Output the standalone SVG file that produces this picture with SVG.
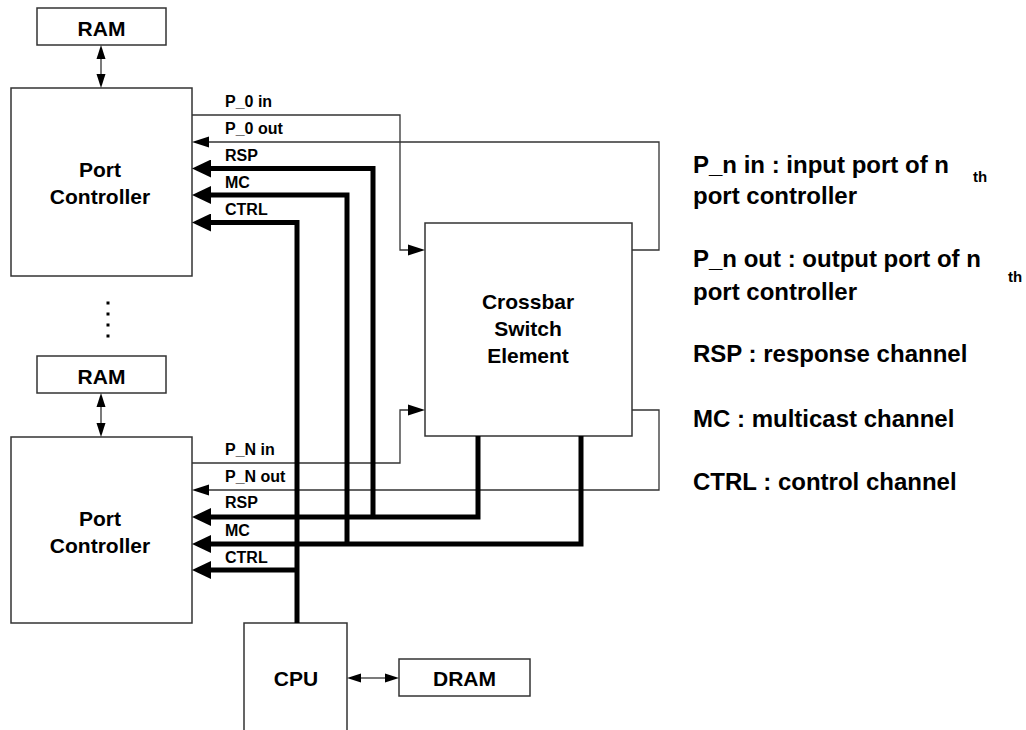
<svg xmlns="http://www.w3.org/2000/svg" width="1026" height="730" viewBox="0 0 1026 730">
<style>
.box{fill:#fff;stroke:#333;stroke-width:1.5}
.thin{fill:none;stroke:#333;stroke-width:1.3}
.thick{fill:none;stroke:#000;stroke-width:5}
text{font-family:"Liberation Sans",Arial,sans-serif;font-weight:bold;fill:#000}
.nl{font-size:21px;text-anchor:middle}
.sl{font-size:16px}
.lg{font-size:24px}
.sup{font-size:15px}
</style>
<defs>
<marker id="ah" markerUnits="userSpaceOnUse" markerWidth="17" markerHeight="12" refX="0" refY="6" orient="auto"><path d="M0,0.5 L17,6 L0,11.5 z" fill="#000"/></marker>
<marker id="as" markerUnits="userSpaceOnUse" markerWidth="14" markerHeight="10" refX="0" refY="5" orient="auto-start-reverse"><path d="M0,0.5 L14,5 L0,9.5 z" fill="#000"/></marker>
<marker id="at" markerUnits="userSpaceOnUse" markerWidth="19" markerHeight="18" refX="0" refY="9" orient="auto"><path d="M0,0 L19,9 L0,18 z" fill="#000"/></marker>
</defs>
<g id="ram0"><rect class="box" x="37" y="8" width="129" height="37"/><text class="nl" x="101.5" y="36">RAM</text></g>
<g id="pc0"><rect class="box" x="11" y="88" width="181" height="188"/><text class="nl" x="100" y="177">Port</text><text class="nl" x="100" y="204">Controller</text></g>
<g id="dots"><rect x="106.5" y="301.5" width="3" height="3" fill="#000"/><rect x="106.5" y="312.5" width="3" height="3" fill="#000"/><rect x="106.5" y="323.5" width="3" height="3" fill="#000"/><rect x="106.5" y="334.5" width="3" height="3" fill="#000"/></g>
<g id="ramN"><rect class="box" x="37" y="356" width="129" height="37"/><text class="nl" x="101.5" y="384">RAM</text></g>
<g id="pcN"><rect class="box" x="11" y="437" width="181" height="186"/><text class="nl" x="100" y="526">Port</text><text class="nl" x="100" y="553">Controller</text></g>
<g id="crossbar"><rect class="box" x="425" y="223" width="207" height="213"/><text class="nl" x="528" y="309">Crossbar</text><text class="nl" x="528" y="336">Switch</text><text class="nl" x="528" y="363">Element</text></g>
<g id="cpu"><rect class="box" x="244" y="623" width="103" height="120"/><text class="nl" x="296" y="686">CPU</text></g>
<g id="dram"><rect class="box" x="399" y="659" width="131" height="37"/><text class="nl" x="464.5" y="686">DRAM</text></g>
<g id="connectors">
<line class="thin" x1="101" y1="59" x2="101" y2="74" marker-start="url(#as)" marker-end="url(#as)"/>
<line class="thin" x1="101" y1="407" x2="101" y2="423" marker-start="url(#as)" marker-end="url(#as)"/>
<line class="thin" x1="361" y1="678" x2="385" y2="678" marker-start="url(#as)" marker-end="url(#as)"/>
<path class="thin" d="M192,115 H400 V250 H408" marker-end="url(#ah)"/>
<path class="thin" d="M632,250 H659 V142 H209" marker-end="url(#ah)"/>
<path class="thin" d="M192,463 H400 V410 H408" marker-end="url(#ah)"/>
<path class="thin" d="M632,410 H659 V490 H209" marker-end="url(#ah)"/>
<path class="thick" d="M373,517 V168.5 H211" marker-end="url(#at)"/>
<path class="thick" d="M347,544 V195 H211" marker-end="url(#at)"/>
<path class="thick" d="M297,623 V222.5 H211" marker-end="url(#at)"/>
<path class="thick" d="M297,570 H211" marker-end="url(#at)"/>
<path class="thick" d="M478,436 V517 H211" marker-end="url(#at)"/>
<path class="thick" d="M581,436 V544 H211" marker-end="url(#at)"/>
</g>
<g id="labels">
<text class="sl" x="225" y="107">P_0 in</text>
<text class="sl" x="225" y="134">P_0 out</text>
<text class="sl" x="225" y="161">RSP</text>
<text class="sl" x="225" y="188">MC</text>
<text class="sl" x="225" y="215">CTRL</text>
<text class="sl" x="225" y="455">P_N in</text>
<text class="sl" x="225" y="482">P_N out</text>
<text class="sl" x="225" y="508">RSP</text>
<text class="sl" x="225" y="536">MC</text>
<text class="sl" x="225" y="563">CTRL</text>
</g>
<g id="legend">
<text class="lg" x="693" y="173">P_n in : input port of n</text><text class="sup" x="973" y="182">th</text>
<text class="lg" x="693" y="204">port controller</text>
<text class="lg" x="693" y="267">P_n out : output port of n</text><text class="sup" x="1008" y="282">th</text>
<text class="lg" x="693" y="300">port controller</text>
<text class="lg" x="693" y="362">RSP : response channel</text>
<text class="lg" x="693" y="427">MC : multicast channel</text>
<text class="lg" x="693" y="490">CTRL : control channel</text>
</g>
</svg>
